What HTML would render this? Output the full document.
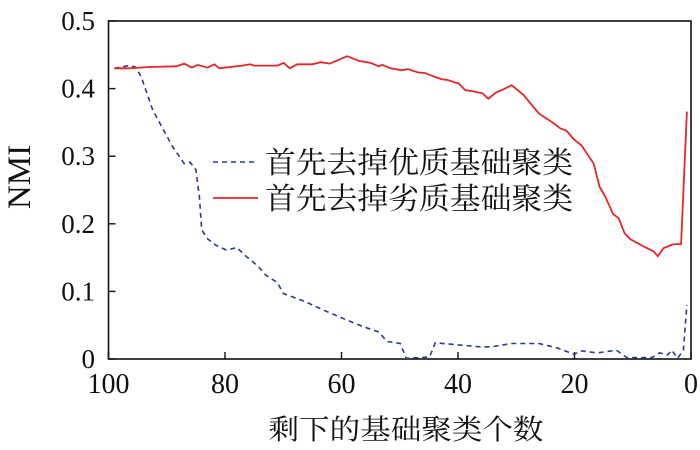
<!DOCTYPE html>
<html><head><meta charset="utf-8"><style>
html,body{margin:0;padding:0;background:#fff;}
svg{display:block;}
text{font-family:"Liberation Serif","Noto Serif CJK SC",serif;fill:#111;}
.cjk{font-family:"Liberation Serif","Noto Serif CJK SC","Noto Sans CJK SC",serif;}
</style></head><body>
<svg id="chart" width="700" height="450" viewBox="0 0 700 450"></svg>
<script>
const xTicks=[100,80,60,40,20,0];
const yTicks=[0,0.1,0.2,0.3,0.4,0.5];
const yTickLabels=["0","0.1","0.2","0.3","0.4","0.5"];
const redX=[99,96.5,93,88.4,87,85.7,84.7,83,81.8,81,77,75.7,75,71,69.9,68.9,67.6,65,63.6,62,59,57,55,53.6,53,51.6,49.6,48.6,46.9,45.6,44.2,42.9,41.9,40.5,39.9,38.8,37.5,35.8,34.8,33.5,32.2,30.8,28.8,26.1,23.8,22.4,21.4,20.1,18.8,16.7,15.7,14.7,13.4,12.4,11.4,10.4,8.0,6.4,5.7,4.7,3.3,2.7,1.7,0.7];
const redY=[0.430,0.430,0.432,0.433,0.437,0.431,0.435,0.431,0.436,0.430,0.434,0.436,0.434,0.434,0.438,0.430,0.436,0.436,0.439,0.437,0.448,0.441,0.438,0.433,0.435,0.430,0.427,0.429,0.424,0.423,0.418,0.414,0.413,0.409,0.408,0.398,0.396,0.393,0.385,0.394,0.399,0.405,0.391,0.363,0.350,0.341,0.338,0.325,0.316,0.289,0.255,0.240,0.215,0.208,0.186,0.177,0.166,0.159,0.152,0.164,0.169,0.170,0.170,0.366];
const blueX=[99,96.5,95.4,94.4,92.4,91,89,87,86,85,84.4,84,83,81.7,79.7,78,76.4,74.3,73,71,70,66.3,63,58.9,56.3,53.6,52.2,49.9,48.9,44.9,43.9,41.5,36.2,34.2,30.8,26.1,22.8,20.1,18.8,16.1,12.8,11,6.7,5.4,4,3.3,2.3,1.3,0.7];
const blueY=[0.430,0.434,0.432,0.418,0.368,0.346,0.314,0.289,0.291,0.280,0.240,0.191,0.178,0.169,0.161,0.165,0.152,0.137,0.124,0.113,0.097,0.085,0.072,0.057,0.048,0.040,0.026,0.023,0.001,0.003,0.024,0.022,0.018,0.018,0.023,0.023,0.016,0.007,0.012,0.009,0.013,0.002,0.002,0.009,0.006,0.013,0.001,0.013,0.080];
const legendLabels=["首先去掉优质基础聚类","首先去掉劣质基础聚类"];

const L=108.5,R=691,T=21,B=359;
const xs=v=>L+(100-v)/100*(R-L);
const ys=v=>B-v/0.5*(B-T);
const svg=document.getElementById('chart');
const NS='http://www.w3.org/2000/svg';
function mk(tag,attrs,parent){const e=document.createElementNS(NS,tag);for(const k in attrs)e.setAttribute(k,attrs[k]);(parent||svg).appendChild(e);return e;}

const frame=mk('rect',{x:L,y:T,width:R-L,height:B-T,fill:'none',stroke:'#111','stroke-width':1.6});



xTicks.forEach((v,i)=>{
  const t=mk('line',{x1:xs(v),x2:xs(v),y1:B,y2:B-7,stroke:'#111','stroke-width':1.4});
  
  
  const lb=mk('text',{x:xs(v),y:393,'font-size':28,'text-anchor':'middle'});
  lb.textContent=String(v);
  
  
});
yTicks.forEach((v,i)=>{
  const t=mk('line',{x1:L,x2:L+7,y1:ys(v),y2:ys(v),stroke:'#111','stroke-width':1.4});
  
  
  const lb=mk('text',{x:95,y:ys(v)+9,'font-size':27,'text-anchor':'end'});
  lb.textContent=yTickLabels[i];
  
  
});

function path(xa,ya){return xa.map((x,i)=>(i?'L':'M')+xs(x).toFixed(1)+','+ys(ya[i]).toFixed(1)).join(' ');}
const blue=mk('path',{d:path(blueX,blueY),fill:'none',stroke:'#2e3a8c','stroke-width':1.6,'stroke-dasharray':'5,4'});


const red=mk('path',{d:path(redX,redY),fill:'none',stroke:'#e8262a','stroke-width':1.8});



const lg=mk('g',{});


const l1=mk('line',{x1:213,x2:258,y1:162,y2:162,stroke:'#2e3a8c','stroke-width':1.6,'stroke-dasharray':'5,4'},lg);


const l2=mk('line',{x1:213,x2:258,y1:198,y2:198,stroke:'#e8262a','stroke-width':1.8},lg);


[162,198].forEach((y,i)=>{
  const t=mk('text',{x:265,y:y+11,'font-size':30,textLength:308,lengthAdjust:'spacingAndGlyphs',class:'cjk'},lg);
  t.textContent=legendLabels[i];
  
  
});

const xt=mk('text',{x:406,y:439,'font-size':28,'text-anchor':'middle',textLength:275,lengthAdjust:'spacingAndGlyphs',class:'cjk'});
xt.textContent='剩下的基础聚类个数';


const yt=mk('text',{x:0,y:0,'font-size':33,'text-anchor':'middle',transform:'translate(30,177) rotate(-90)'});
yt.textContent='NMI';


</script>
</body></html>
